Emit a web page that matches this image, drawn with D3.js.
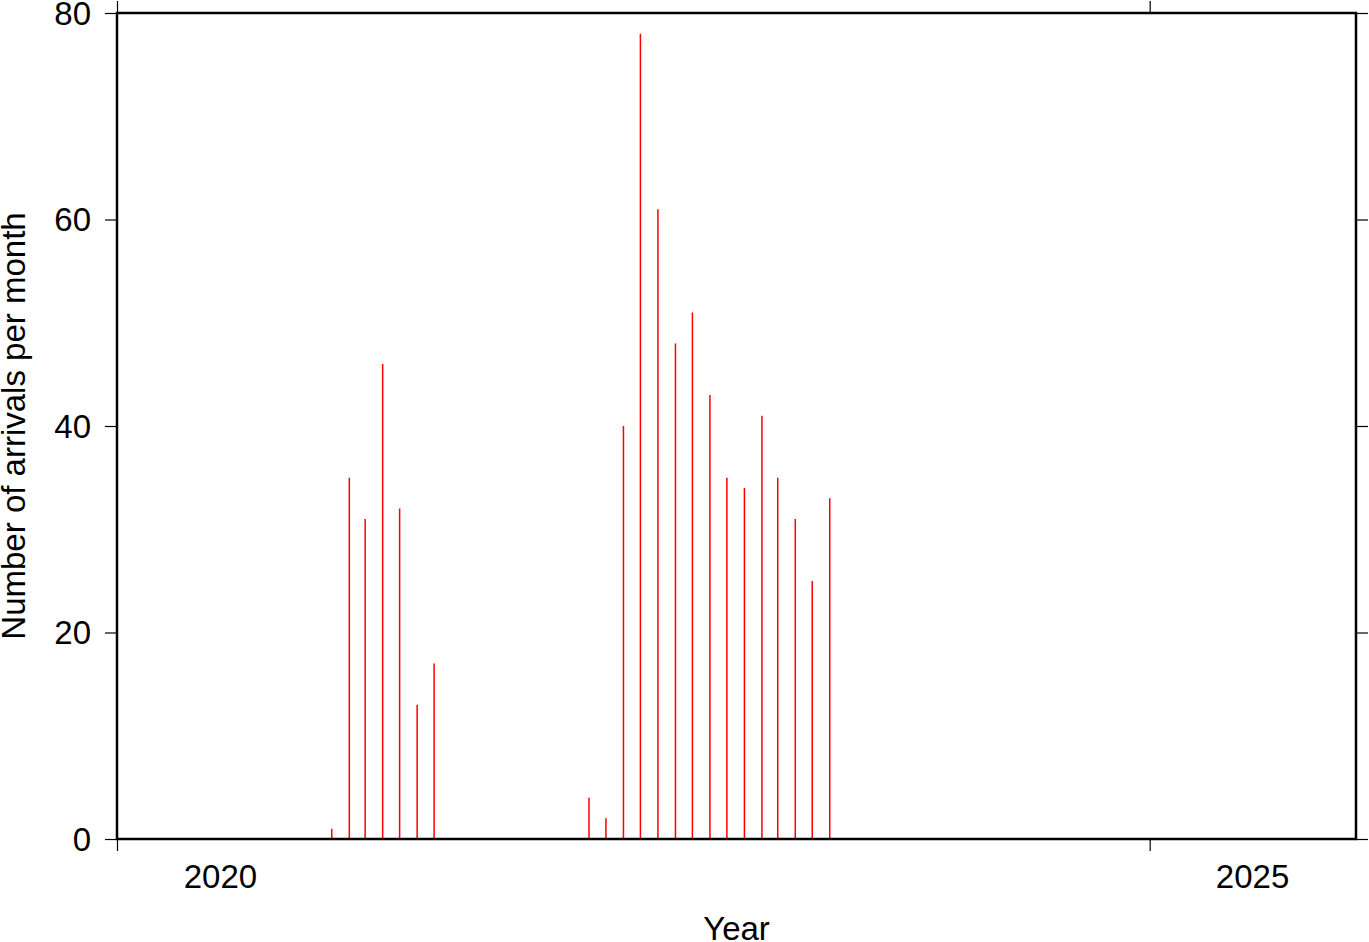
<!DOCTYPE html>
<html><head><meta charset="utf-8">
<script src="https://cdn.jsdelivr.net/npm/d3@7"></script>
<style>body{margin:0;background:#fff}svg{display:block}text{font-family:"Liberation Sans",Arial,Helvetica,sans-serif}</style>
</head><body>
<svg id="c" width="1369" height="942"></svg>
<script>
const months = ["2021-01","2021-02","2021-03","2021-04","2021-05","2021-06","2021-07",
  "2022-04","2022-05","2022-06","2022-07","2022-08","2022-09","2022-10","2022-11","2022-12",
  "2023-01","2023-02","2023-03","2023-04","2023-05","2023-06"];
const counts = [1,35,31,46,32,13,17, 4,2,40,78,61,48,51,43,35, 34,41,35,31,25,33];
const yTicks = [0,20,40,60,80];
const xTickYears = [2020,2025];
const xLabel = "Year";
const yLabel = "Number of arrivals per month";

const W=1369,H=942, L=117,R=1356,T=13,B=839;
const svg=d3.select("#c");
const x=d3.scaleTime().domain([new Date(2020,0,1),new Date(2026,0,1)]).range([L,R]);
const y=d3.scaleLinear().domain([0,80]).range([B,T]);
const fs=33, tl=12;

// bars
const data=months.map((m,i)=>{const [yy,mm]=m.split("-").map(Number);return {d:new Date(yy,mm-1,15),v:counts[i]};});
svg.append("g").selectAll("line").data(data).join("line")
  .attr("x1",d=>x(d.d)).attr("x2",d=>x(d.d))
  .attr("y1",y(0)).attr("y2",d=>y(d.v))
  .attr("stroke","#ff0000").attr("stroke-width",1.5);

const tickDates=xTickYears.map(yr=>new Date(yr,0,1));
function styleAxis(g){g.select(".domain").remove();g.selectAll(".tick line").attr("stroke","#000").attr("stroke-width",1.2);g.selectAll("text").remove();}
svg.append("g").attr("transform",`translate(${L},0)`).call(d3.axisLeft(y).tickValues(yTicks).tickSize(tl)).call(styleAxis);
svg.append("g").attr("transform",`translate(${R},0)`).call(d3.axisRight(y).tickValues(yTicks).tickSize(tl)).call(styleAxis);
svg.append("g").attr("transform",`translate(0,${B})`).call(d3.axisBottom(x).tickValues(tickDates).tickSize(tl)).call(styleAxis);
svg.append("g").attr("transform",`translate(0,${T})`).call(d3.axisTop(x).tickValues(tickDates).tickSize(tl)).call(styleAxis);

// frame
svg.append("rect").attr("x",L).attr("y",T).attr("width",R-L).attr("height",B-T)
  .attr("fill","none").attr("stroke","#000").attr("stroke-width",2.5);

// y tick labels
svg.append("g").selectAll("text").data(yTicks).join("text")
  .attr("x",L-tl-14).attr("y",d=>y(d)).attr("dy","0.36em")
  .attr("text-anchor","end").attr("font-size",fs).text(d=>d);
// x tick labels centered in year interval
svg.append("g").selectAll("text").data(xTickYears).join("text")
  .attr("x",d=>x(new Date(d,6,2))).attr("y",888)
  .attr("text-anchor","middle").attr("font-size",fs).text(d=>d);

svg.append("text").attr("x",(L+R)/2).attr("y",940).attr("text-anchor","middle").attr("font-size",fs).text(xLabel);
svg.append("text").attr("transform",`translate(25,${(T+B)/2}) rotate(-90)`).attr("text-anchor","middle").attr("font-size",fs).text(yLabel);
</script>
</body></html>
